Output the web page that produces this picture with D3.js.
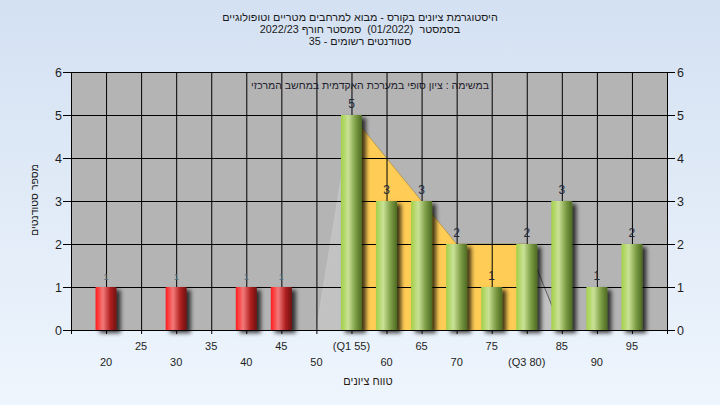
<!DOCTYPE html>
<html><head><meta charset="utf-8">
<script src="https://cdn.jsdelivr.net/npm/d3@7"></script>
<style>
html,body{margin:0;padding:0;}
body{width:720px;height:405px;overflow:hidden;}
text{font-family:"Liberation Sans",Arial,sans-serif;}
</style></head>
<body>
<svg id="c" width="720" height="405"></svg>
<script>
// ---- data ----
const titleLines = ["היסטוגרמת ציונים בקורס - מבוא למרחבים מטריים וטופולוגיים",
                    "בסמסטר  (01/2022)  סמסטר חורף 2022/23",
                    "סטודנטים רשומים - 35"];
const subTitle = "במשימה : ציון סופי במערכת האקדמית במחשב המרכזי";
const yTitle = "מספר סטודנטים";
const xTitle = "טווח ציונים";
const binCenters = [20, 30, 40, 45, 55, 60, 65, 70, 75, 80, 85, 90, 95];
const counts     = [1, 1, 1, 1, 5, 3, 3, 2, 1, 2, 3, 1, 2];
const passMark = 50;
const q1 = 55, q3 = 80;
const shapeX = [50, 55, 65, 70, 80, 85];
const shapeY = [0, 5, 3, 2, 2, 0];
const xTickRow1 = [25, 35, 45, 55, 65, 75, 85, 95];
const xTickRow2 = [20, 30, 40, 50, 60, 70, 80, 90];
const xTickText = {55: "(Q1 55)", 80: "(Q3 80)"};
const yTicks = [0, 1, 2, 3, 4, 5, 6];
const xDomain = [15, 100];
const yDomain = [0, 6];

// ---- layout ----
const svg = d3.select("#c");
const L = 71, R = 667, T = 72, B = 330;
const x = d3.scaleLinear().domain(xDomain).range([L, R]);
const y = d3.scaleLinear().domain(yDomain).range([B, T]);
const defs = svg.append("defs");

const bg = defs.append("linearGradient").attr("id","bg").attr("x1",0).attr("y1",0).attr("x2",0).attr("y2",1);
bg.append("stop").attr("offset","0%").attr("stop-color","#d4e1f2");
bg.append("stop").attr("offset","100%").attr("stop-color","#eef5fd");
svg.append("rect").attr("width",720).attr("height",405).attr("fill","url(#bg)");

function cyl(id, c0, c1, c2, c3){
  const g = defs.append("linearGradient").attr("id",id).attr("x1",0).attr("x2",1).attr("y1",0).attr("y2",0);
  g.append("stop").attr("offset","0%").attr("stop-color",c0);
  g.append("stop").attr("offset","35%").attr("stop-color",c1);
  g.append("stop").attr("offset","70%").attr("stop-color",c2);
  g.append("stop").attr("offset","100%").attr("stop-color",c3);
}
cyl("red","#ff1c1c","#f37a7a","#b02020","#6e1010");
cyl("green","#a2d048","#c9e196","#7c9c44","#4d6a22");

const f = defs.append("filter").attr("id","sh").attr("x","-50%").attr("y","-20%").attr("width","200%").attr("height","140%");
f.append("feDropShadow").attr("dx",4).attr("dy",3).attr("stdDeviation",2.2).attr("flood-color","#000").attr("flood-opacity",0.75);

// plot background
svg.append("rect").attr("x",L).attr("y",T).attr("width",R-L).attr("height",B-T).attr("fill","#b4b4b4");

// shape areas
const pts = shapeX.map((v,i)=>[v, shapeY[i]]);
const area = d3.area().x(d=>x(d[0])).y0(y(0)).y1(d=>y(d[1]));
const left = pts.filter(d=>d[0]<=q1), mid = pts.filter(d=>d[0]>=q1 && d[0]<=q3), right = pts.filter(d=>d[0]>=q3);
svg.append("path").attr("d",area(left)).attr("fill","#c2c2c2");
svg.append("path").attr("d",area(right)).attr("fill","#c2c2c2");
svg.append("path").attr("d",area(mid)).attr("fill","#ffcc55");
const line = d3.line().x(d=>x(d[0])).y(d=>y(d[1]));
svg.append("path").attr("d",line(mid)).attr("fill","none").attr("stroke","#a89050").attr("stroke-width",0.8);
svg.append("path").attr("d",line(right)).attr("fill","none").attr("stroke","#444").attr("stroke-width",0.8);
svg.append("path").attr("d",line(left)).attr("fill","none").attr("stroke","#c8c8c8").attr("stroke-width",0.8);

// grid
const gx = d3.range(xDomain[0], xDomain[1]+0.1, 5);
svg.append("g").selectAll("line").data(gx).join("line")
  .attr("x1",d=>x(d)+0.5).attr("x2",d=>x(d)+0.5).attr("y1",T).attr("y2",B).attr("stroke","#000").attr("stroke-width",1);
svg.append("g").selectAll("line").data(yTicks).join("line")
  .attr("x1",L).attr("x2",R).attr("y1",d=>Math.round(y(d))+0.5).attr("y2",d=>Math.round(y(d))+0.5).attr("stroke","#000").attr("stroke-width",1);

// subtitle
svg.append("text").attr("x",370).attr("y",89).attr("text-anchor","middle").attr("font-size",10.5)
  .attr("fill","#1e1e2e").attr("direction","rtl").attr("unicode-bidi","plaintext").text(subTitle);

// bars
const bw = 21;
const data = binCenters.map((c,i)=>({c, v:counts[i]}));
svg.append("g").selectAll("rect").data(data).join("rect")
  .attr("x",d=>x(d.c)-bw/2).attr("y",d=>y(d.v)).attr("width",bw).attr("height",d=>y(0)-y(d.v))
  .attr("fill",d=>d.c < passMark ? "url(#red)" : "url(#green)").attr("filter","url(#sh)");
svg.append("g").selectAll("text").data(data).join("text")
  .attr("x",d=>x(d.c)).attr("y",d=>y(d.v)-7).attr("text-anchor","middle")
  .attr("font-size",d=>d.c < passMark ? 9 : 12)
  .attr("fill",d=>d.c < passMark ? "#4a6a88" : "#22283a").text(d=>d.v);

// axes
const yl = d3.axisLeft(y).tickValues(yTicks).tickSize(8).tickFormat(d3.format("d"));
const yr = d3.axisRight(y).tickValues(yTicks).tickSize(8).tickFormat(d3.format("d"));
const styleAx = g => { g.select(".domain").attr("stroke","#000"); g.selectAll(".tick line").attr("stroke","#000");
  g.selectAll("text").attr("font-size",12.5).attr("fill","#1e1e1e").attr("font-family","'Liberation Sans',Arial,sans-serif"); };
svg.append("g").attr("transform",`translate(${L},0)`).call(yl).call(styleAx).call(g=>g.selectAll("text").attr("x",-9));
svg.append("g").attr("transform",`translate(${R},0)`).call(yr).call(styleAx).call(g=>g.selectAll("text").attr("x",10));

const xa = d3.axisBottom(x).tickValues(gx).tickSize(4).tickFormat("");
svg.append("g").attr("transform",`translate(0,${B})`).call(xa).call(g=>{g.select(".domain").attr("stroke","#000");g.selectAll(".tick line").attr("stroke","#000");});

svg.append("g").selectAll("text").data(xTickRow1).join("text")
  .attr("x",d=>x(d)).attr("y",349.5).attr("text-anchor","middle").attr("font-size",11).attr("fill","#1e1e1e")
  .text(d=>xTickText[d] || d);
svg.append("g").selectAll("text").data(xTickRow2).join("text")
  .attr("x",d=>x(d)).attr("y",366).attr("text-anchor","middle").attr("font-size",11).attr("fill","#1e1e1e")
  .text(d=>xTickText[d] || d);

// titles
svg.append("g").selectAll("text").data(titleLines).join("text")
  .attr("x",360).attr("y",(d,i)=>21+i*12).attr("text-anchor","middle").attr("font-size",10.8).attr("fill","#1a1a1a")
  .attr("direction","rtl").attr("unicode-bidi","plaintext").style("white-space","pre").text(d=>d);
svg.append("text").attr("transform","translate(38,200) rotate(-90)").attr("text-anchor","middle").attr("font-size",10.5)
  .attr("fill","#1a1a1a").attr("direction","rtl").text(yTitle);
svg.append("text").attr("x",368).attr("y",385).attr("text-anchor","middle").attr("font-size",11)
  .attr("fill","#2a1a10").attr("direction","rtl").text(xTitle);
</script>
</body></html>
